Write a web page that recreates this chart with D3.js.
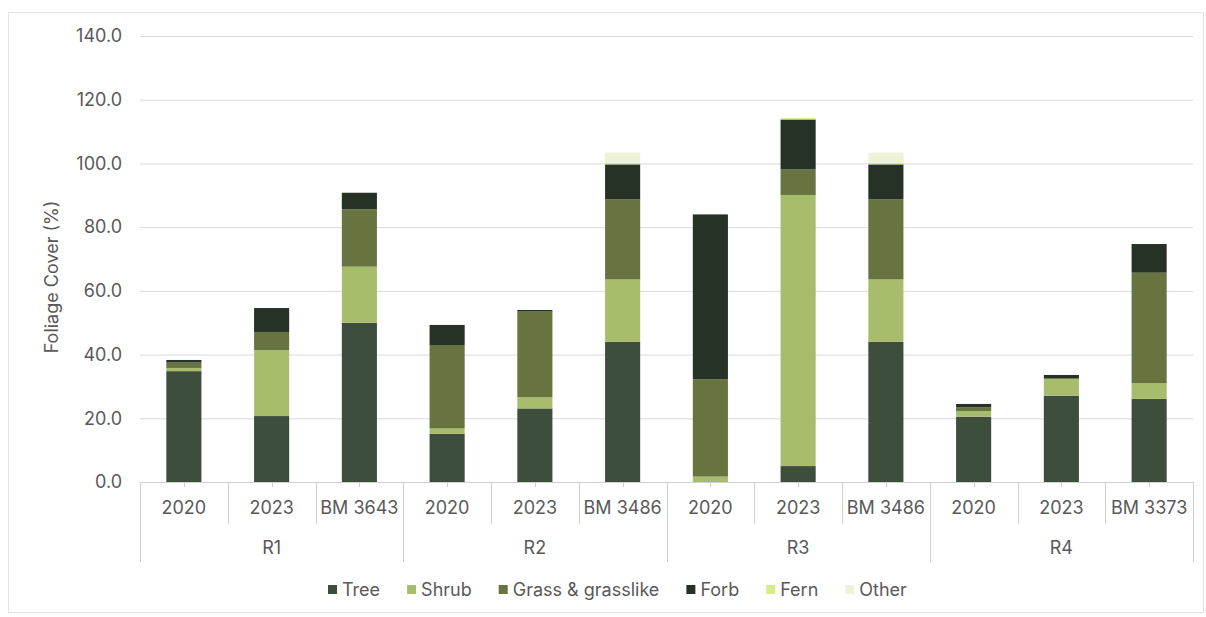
<!DOCTYPE html>
<html>
<head>
<meta charset="utf-8" />
<title>Foliage cover</title>
<style>
html, body { margin: 0; padding: 0; background: #fff; }
svg { display: block; font-family: Inter, "Noto Sans", sans-serif; }
</style>
</head>
<body>
<svg id="chart" width="1206" height="617"></svg>
<script src="https://cdn.jsdelivr.net/npm/d3@7"></script>
<script>
// data
var groups = ["R1", "R2", "R3", "R4"];
var labels = ["2020", "2023", "BM 3643", "2020", "2023", "BM 3486", "2020", "2023", "BM 3486", "2020", "2023", "BM 3373"];
var series = ["Tree", "Shrub", "Grass & grasslike", "Forb", "Fern", "Other"];
var colors = ["#3d4f3c", "#a8bd6c", "#677440", "#263226", "#d4ec8a", "#eef2d6"];
var tree  = [34.8, 20.7, 50.0, 15.1, 23.1, 44.0,  0.0,  5.0, 44.0, 20.5, 27.1, 26.1];
var shrub = [ 1.0, 20.7, 17.6,  1.7,  3.5, 19.6,  1.7, 85.1, 19.6,  1.8,  5.2,  4.9];
var grass = [ 1.7,  5.7, 18.0, 26.2, 26.9, 25.1, 30.5,  8.0, 25.1,  1.1,  0.3, 34.7];
var forb  = [ 0.8,  7.5,  5.2,  6.3,  0.5, 11.0, 51.8, 15.7, 11.0,  1.1,  1.0,  9.0];
var fern  = [ 0.0,  0.0,  0.0,  0.0,  0.0,  0.5,  0.0,  0.4,  0.5,  0.0,  0.0,  0.0];
var other = [ 0.0,  0.0,  0.0,  0.0,  0.0,  3.2,  0.0,  0.0,  3.2,  0.0,  0.0,  0.0];
var yTicks = [0, 20, 40, 60, 80, 100, 120, 140];

var rows = labels.map(function(l, i) {
	return { key: groups[Math.floor(i / 3)] + "|" + i, label: l, group: groups[Math.floor(i / 3)],
		"Tree": tree[i], "Shrub": shrub[i], "Grass & grasslike": grass[i],
		"Forb": forb[i], "Fern": fern[i], "Other": other[i] };
});

var svg = d3.select("#chart");
var pLeft = 140, pRight = 1193, pTop = 36, pBottom = 482;
var fs = 18, txt = "#595959";

// outer frame
svg.append("rect").attr("x", 8.5).attr("y", 12.5).attr("width", 1195).attr("height", 600)
	.attr("fill", "#fff").attr("stroke", "#e3e3e3");

var x = d3.scaleBand().domain(rows.map(function(d) { return d.key; }))
	.range([pLeft, pRight]).paddingInner(0.6).paddingOuter(0.3);
var y = d3.scaleLinear().domain([0, 140]).range([pBottom, pTop]);
var color = d3.scaleOrdinal().domain(series).range(colors);

// gridlines + y labels
var yAxis = svg.append("g").attr("transform", "translate(" + pLeft + ",0)")
	.call(d3.axisLeft(y).tickValues(yTicks).tickSize(-(pRight - pLeft)).tickPadding(18)
		.tickFormat(d3.format(".1f")));
yAxis.select(".domain").remove();
yAxis.selectAll(".tick line").attr("stroke", "#dadada");
yAxis.selectAll(".tick text").attr("fill", txt).attr("font-size", fs)
	.attr("font-family", "Inter, 'Noto Sans', sans-serif");

svg.append("text").attr("transform", "translate(58," + ((pTop + pBottom) / 2 + 18) + ") rotate(-90)")
	.attr("text-anchor", "middle").attr("fill", txt).attr("font-size", fs)
	.text("Foliage Cover (%)");

// stacked bars
var stack = d3.stack().keys(series)(rows);
svg.append("g").selectAll("g").data(stack).enter().append("g")
	.attr("fill", function(d) { return color(d.key); })
	.selectAll("rect").data(function(d) { return d; }).enter().append("rect")
		.attr("x", function(d) { return x(d.data.key); })
		.attr("width", x.bandwidth())
		.attr("y", function(d) { return y(d[1]); })
		.attr("height", function(d) { return y(d[0]) - y(d[1]); });

// x axis: baseline, ticks, category separators
var step = x.step();
var axisG = svg.append("g").attr("stroke", "#d0d0d0").attr("fill", "none");
axisG.append("line").attr("x1", pLeft).attr("x2", pRight).attr("y1", pBottom + 0.5).attr("y2", pBottom + 0.5);
rows.forEach(function(d) {
	var cx = Math.round(x(d.key) + x.bandwidth() / 2) + 0.5;
	axisG.append("line").attr("x1", cx).attr("x2", cx).attr("y1", pBottom).attr("y2", pBottom + 5);
});
d3.range(labels.length + 1).forEach(function(i) {
	var bx = Math.round(pLeft + i * step) + 0.5;
	var len = (i % 3 === 0) ? 80 : 42;
	axisG.append("line").attr("x1", bx).attr("x2", bx).attr("y1", pBottom).attr("y2", pBottom + len);
});

svg.append("g").selectAll("text").data(rows).enter().append("text")
	.attr("x", function(d) { return x(d.key) + x.bandwidth() / 2; })
	.attr("y", 514).attr("text-anchor", "middle").attr("fill", txt).attr("font-size", fs)
	.text(function(d) { return d.label; });

svg.append("g").selectAll("text").data(groups).enter().append("text")
	.attr("x", function(d, i) { return pLeft + (i * 3 + 1.5) * step; })
	.attr("y", 554).attr("text-anchor", "middle").attr("fill", txt).attr("font-size", fs)
	.text(function(d) { return d; });

// legend
var legend = svg.append("g").attr("transform", "translate(328,596)");
var lx = 0;
series.forEach(function(s, i) {
	var item = legend.append("g").attr("transform", "translate(" + lx + ",0)");
	item.append("rect").attr("x", 0).attr("y", -11).attr("width", 9).attr("height", 9).attr("fill", colors[i]);
	var t = item.append("text").attr("x", 14).attr("y", 0).attr("fill", txt).attr("font-size", fs).text(s);
	lx += 14 + t.node().getComputedTextLength() + 27;
});
</script>
</body>
</html>
